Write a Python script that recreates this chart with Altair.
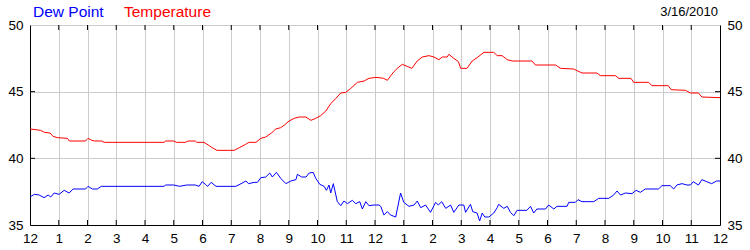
import altair as alt
import pandas as pd

# ---- data ----
temp_hours = [0.0, 0.2, 0.37, 0.5, 0.7, 0.8, 0.95, 1.3, 1.37, 1.93, 2.02, 2.15, 2.25, 2.5, 2.58, 4.66,
              4.72, 5.0, 5.1, 5.4, 5.5, 5.75, 5.8, 6.05, 6.2, 6.3, 6.5, 7.1, 7.28, 7.5, 7.62, 7.86,
              8.03, 8.2, 8.4, 8.55, 8.72, 8.85, 9.01, 9.19, 9.36, 9.6, 9.77, 9.94, 10.11, 10.29,
              10.46, 10.64, 10.81, 10.98, 11.16, 11.39, 11.62, 11.79, 12.03, 12.14, 12.3, 12.43,
              12.55, 12.66, 12.8, 12.95, 13.12, 13.28, 13.47, 13.64, 13.88, 14.05, 14.22, 14.34,
              14.51, 14.57, 14.74, 14.9, 14.98, 15.2, 15.38, 15.55, 15.79, 16.13, 16.25, 16.42,
              16.6, 16.77, 17.46, 17.58, 18.28, 18.45, 18.91, 19.2, 19.72, 19.84, 20.36, 20.48,
              20.9, 21.0, 21.52, 21.63, 22.2, 22.3, 22.8, 22.97, 23.25, 23.37, 24.0]
temp_values = [42.2, 42.15, 42.1, 41.95, 41.9, 41.65, 41.55, 41.5, 41.3, 41.3, 41.5, 41.35, 41.3, 41.3, 41.2, 41.2,
               41.3, 41.3, 41.2, 41.2, 41.3, 41.3, 41.2, 41.2, 41.0, 40.85, 40.6, 40.6, 40.8, 41.05, 41.2, 41.2,
               41.5, 41.6, 41.9, 42.2, 42.3, 42.5, 42.8, 43.0, 43.1, 43.1, 42.85, 43.0, 43.2, 43.55,
               44.1, 44.5, 44.9, 44.95, 45.25, 45.7, 45.8, 46.0, 46.07, 46.05, 46.0, 45.85,
               46.2, 46.5, 46.8, 47.05, 46.9, 46.75, 47.3, 47.6, 47.7, 47.6, 47.4, 47.6,
               47.6, 47.8, 47.5, 47.25, 46.75, 46.75, 47.3, 47.55, 47.95, 47.95, 47.7, 47.7,
               47.4, 47.3, 47.3, 47.0, 47.0, 46.75, 46.7, 46.4, 46.4, 46.2, 46.2, 46.0,
               46.0, 45.7, 45.7, 45.45, 45.45, 45.15, 45.1, 44.9, 44.9, 44.6, 44.55]

dew_hours = [0.0, 0.15, 0.32, 0.49, 0.63, 0.72, 0.84, 1.01, 1.19, 1.36, 1.5, 1.93, 2.02, 2.17, 2.34, 2.48,
             4.66, 4.72, 5.0, 5.2, 5.45, 5.75, 5.88, 5.99, 6.1, 6.18, 6.3, 6.47, 7.16, 7.34, 7.51, 7.6,
             7.8, 7.91, 8.03, 8.2, 8.34, 8.43, 8.57, 8.72, 8.9, 9.07, 9.25, 9.3, 9.45, 9.6, 9.71, 9.85,
             9.94, 10.08, 10.23, 10.31, 10.4, 10.46, 10.55, 10.69, 10.81, 10.92, 11.04, 11.21, 11.33,
             11.47, 11.56, 11.68, 11.79, 11.97, 12.14, 12.2, 12.31, 12.43, 12.54, 12.72, 12.89, 13.0,
             13.18, 13.36, 13.47, 13.59, 13.76, 13.93, 14.11, 14.2, 14.32, 14.46, 14.63, 14.74, 14.92,
             15.09, 15.15, 15.32, 15.4, 15.55, 15.64, 15.73, 15.82, 15.96, 16.13, 16.25, 16.3, 16.48,
             16.6, 16.71, 16.83, 16.94, 17.28, 17.41, 17.52, 17.63, 17.93, 18.04, 18.22, 18.33, 18.68,
             18.74, 18.97, 19.06, 19.2, 19.61, 19.78, 20.13, 20.3, 20.42, 20.54, 20.71, 20.94, 21.08,
             21.23, 21.4, 21.86, 21.98, 22.27, 22.39, 22.5, 22.68, 22.85, 22.97, 23.07, 23.25, 23.37,
             23.54, 23.71, 23.88, 24.0]
dew_values = [37.1, 37.3, 37.25, 37.05, 37.25, 37.1, 37.4, 37.3, 37.6, 37.4, 37.7, 37.7, 37.9, 37.7, 37.7, 37.9,
              37.9, 38.0, 38.0, 37.9, 38.0, 38.0, 37.9, 38.25, 38.05, 37.9, 38.2, 37.9, 37.9, 38.1, 38.3, 38.1,
              38.2, 38.2, 38.55, 38.6, 38.9, 38.6, 38.95, 38.5, 38.1, 38.3, 38.4, 38.8, 38.6, 38.6, 38.9, 38.95,
              38.5, 38.05, 37.9, 37.6, 38.0, 37.4, 38.1, 36.75, 36.45, 36.8, 36.6, 36.85, 36.6,
              36.75, 36.2, 36.75, 36.45, 36.5, 36.5, 36.4, 35.75, 36.0, 35.75, 35.6, 37.4, 36.7,
              36.4, 36.5, 36.8, 36.3, 36.5, 35.95, 36.7, 36.5, 36.75, 36.25, 36.5, 35.95, 36.5,
              36.5, 35.95, 36.55, 36.0, 35.9, 35.3, 35.9, 35.6, 35.6, 35.9, 36.3, 36.55, 36.25,
              36.4, 35.95, 35.7, 36.1, 36.1, 36.4, 35.9, 36.2, 36.2, 36.5, 36.2, 36.4, 36.4,
              36.7, 36.7, 36.9, 36.75, 36.75, 37.0, 37.0, 37.25, 37.55, 37.25, 37.4, 37.35, 37.6,
              37.45, 37.7, 37.7, 37.95, 37.95, 37.7, 38.0, 38.1, 38.0, 38.0, 38.25, 38.0, 38.4,
              38.25, 38.1, 38.3, 38.3]

series_names = ["Dew Point", "Temperature"]
series_colors = ["#0000ff", "#ff0000"]
x_ticks = list(range(0, 25))
y_ticks = [35, 40, 45, 50]
inner_y_ticks = [40, 45]
inner_x_ticks = list(range(1, 24))
date_label = "3/16/2010"

W, H = 690, 200
FONT = "Liberation Sans"

df = pd.concat([
    pd.DataFrame({"hour": dew_hours, "value": dew_values, "series": "Dew Point"}),
    pd.DataFrame({"hour": temp_hours, "value": temp_values, "series": "Temperature"}),
])

xscale = alt.Scale(domain=[0, 24], nice=False, zero=False)
yscale = alt.Scale(domain=[35, 50], nice=False, zero=False)

x_axis = alt.Axis(values=x_ticks, labelExpr="datum.value % 12 == 0 ? '12' : format(datum.value % 12, 'd')",
                  grid=True, gridColor="#cccccc", tickSize=0, domainColor="black",
                  labelPadding=6, labelFontSize=13.5, labelFont=FONT, labelColor="black",
                  labelOverlap=False, labelBound=False, labelFlush=False, title=None)
y_axis_left = alt.Axis(values=y_ticks, grid=True, gridColor="#cccccc", tickSize=0, domainColor="black",
                       labelPadding=7, labelFontSize=13.5, labelFont=FONT, labelColor="black",
                       labelOverlap=False, labelFlush=False, title=None)
y_axis_right = alt.Axis(values=y_ticks, orient="right", grid=False, tickSize=0, domainColor="black",
                        labelPadding=7, labelFontSize=13.5, labelFont=FONT, labelColor="black",
                        labelOverlap=False, labelFlush=False, title=None)

lines = alt.Chart(df).mark_line(strokeWidth=1, clip=True).encode(
    x=alt.X("hour:Q", scale=xscale, axis=x_axis),
    y=alt.Y("value:Q", scale=yscale, axis=y_axis_left),
    color=alt.Color("series:N", scale=alt.Scale(domain=series_names, range=series_colors), legend=None),
    detail="series:N",
)

ytick_df = pd.DataFrame({"v": inner_y_ticks})
right_ticks = alt.Chart(ytick_df).mark_rule(color="black", strokeWidth=1).encode(
    y=alt.Y("v:Q", scale=yscale, axis=y_axis_right),
    x=alt.value(W - 5), x2=alt.value(W),
)
left_ticks = alt.Chart(ytick_df).mark_rule(color="black", strokeWidth=1).encode(
    y=alt.Y("v:Q", scale=yscale, axis=None),
    x=alt.value(0), x2=alt.value(5),
)

xtick_df = pd.DataFrame({"h": inner_x_ticks})
top_ticks = alt.Chart(xtick_df).mark_rule(color="black", strokeWidth=1).encode(
    x=alt.X("h:Q", scale=xscale, axis=x_axis),
    y=alt.value(0), y2=alt.value(5),
)
bottom_ticks = alt.Chart(xtick_df).mark_rule(color="black", strokeWidth=1).encode(
    x=alt.X("h:Q", scale=xscale, axis=x_axis),
    y=alt.value(H - 5), y2=alt.value(H),
)

def label(text, x, y, color, size, align):
    return alt.Chart(pd.DataFrame({"t": [text]})).mark_text(
        align=align, baseline="alphabetic", font=FONT, fontSize=size, color=color
    ).encode(text="t:N", x=alt.value(x), y=alt.value(y))

t1 = label(series_names[0], 3, -8, series_colors[0], 15.5, "left")
t2 = label(series_names[1], 94, -8, series_colors[1], 15.5, "left")
t3 = label(date_label, 688, -9, "black", 13, "right")

chart = alt.layer(lines, left_ticks, top_ticks, bottom_ticks, right_ticks, t1, t2, t3).resolve_axis(
    y="independent"
).properties(
    width=W, height=H,
    padding={"left": 30, "top": 25, "right": 30, "bottom": 25},
    autosize=alt.AutoSizeParams(type="none"),
).configure_view(stroke="black", strokeWidth=1).configure(background="white")

chart.save("out.html", embed_options={"renderer": "svg", "actions": False})
